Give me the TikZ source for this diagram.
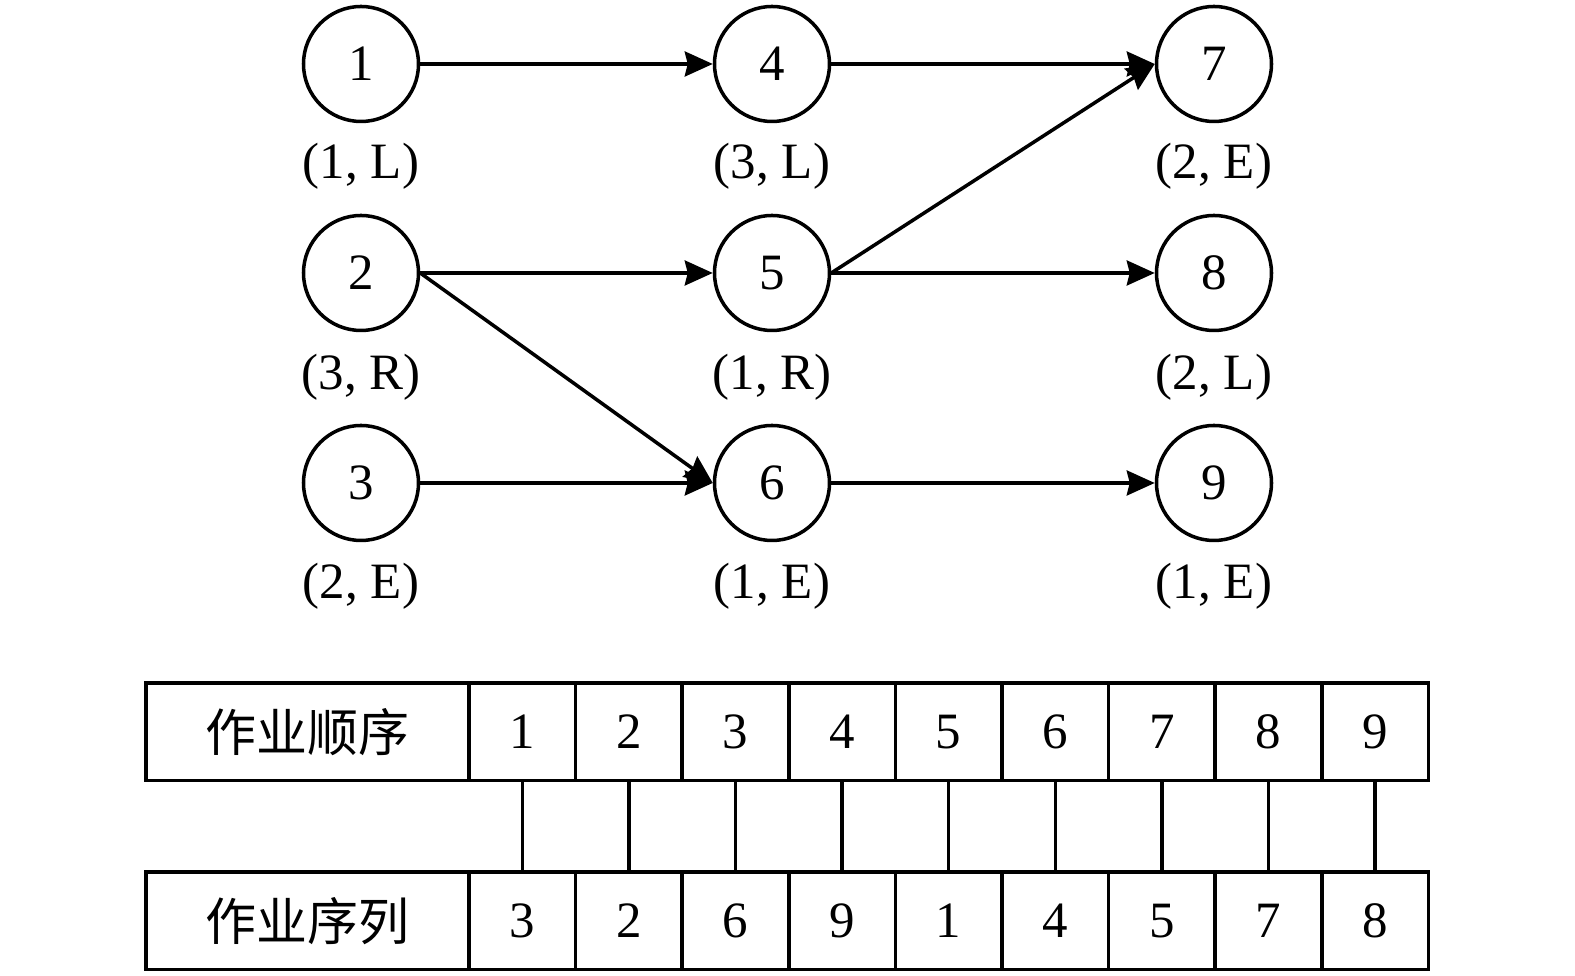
\documentclass[tikz,border=0pt]{standalone}
\usepackage{fontspec}
\setmainfont{Liberation Serif}
\newfontfamily\cjk{Noto Sans CJK SC}
\usetikzlibrary{arrows.meta}

\begin{document}
\begin{tikzpicture}[x=1cm,y=1cm,
  job/.style={circle,draw,line width=1pt,minimum size=1.15cm,inner sep=0pt,font=\fontsize{14.5}{17}\selectfont},
  tag/.style={font=\fontsize{14.5}{17}\selectfont},
  cell/.style={draw,line width=1pt,minimum width=1.066cm,minimum height=0.975cm,inner sep=0pt,outer sep=0pt,font=\fontsize{14.5}{17}\selectfont},
  head/.style={cell,minimum width=3.23cm,font=\cjk\fontsize{14.5}{17}\selectfont},
  flow/.style={line width=1pt,-{Stealth[length=0.28cm,width=0.25cm,inset=0.03cm]}}]
  \useasboundingbox (0,0) rectangle (15.75,9.76);
  \node[job] (n1) at (3.61,9.12) {1};
  \node[job] (n2) at (3.61,7.03) {2};
  \node[job] (n3) at (3.61,4.93) {3};
  \node[job] (n4) at (7.72,9.12) {4};
  \node[job] (n5) at (7.72,7.03) {5};
  \node[job] (n6) at (7.72,4.93) {6};
  \node[job] (n7) at (12.14,9.12) {7};
  \node[job] (n8) at (12.14,7.03) {8};
  \node[job] (n9) at (12.14,4.93) {9};
  \node[tag] (l1) at (3.61,8.10) {(1, L)};
  \node[tag] (l2) at (3.61,5.99) {(3, R)};
  \node[tag] (l3) at (3.61,3.90) {(2, E)};
  \node[tag] (l4) at (7.72,8.10) {(3, L)};
  \node[tag] (l5) at (7.72,5.99) {(1, R)};
  \node[tag] (l6) at (7.72,3.90) {(1, E)};
  \node[tag] (l7) at (12.14,8.10) {(2, E)};
  \node[tag] (l8) at (12.14,5.99) {(2, L)};
  \node[tag] (l9) at (12.14,3.90) {(1, E)};
  \draw[flow] (n1.east) -- (n4.west);
  \draw[flow] (n4.east) -- (n7.west);
  \draw[flow] (n2.east) -- (n5.west);
  \draw[flow] (n2.east) -- (n6.west);
  \draw[flow] (n3.east) -- (n6.west);
  \draw[flow] (n5.east) -- (n7.west);
  \draw[flow] (n5.east) -- (n8.west);
  \draw[flow] (n6.east) -- (n9.west);
  \node[head] (order) at (3.075,2.4425) {作业顺序};
  \node[head] (seq) at (3.075,0.55) {作业序列};
  \foreach \i/\a/\b in {1/1/3,2/2/2,3/3/6,4/4/9,5/5/1,6/6/4,7/7/5,8/8/7,9/9/8} {
    \node[cell] (t\i) at ({4.69+1.066*(\i-0.5)},2.4425) {\a};
    \node[cell] (b\i) at ({4.69+1.066*(\i-0.5)},0.55) {\b};
    \draw[line width=1pt] (t\i.south) -- (b\i.north);
  }
\end{tikzpicture}
\end{document}
